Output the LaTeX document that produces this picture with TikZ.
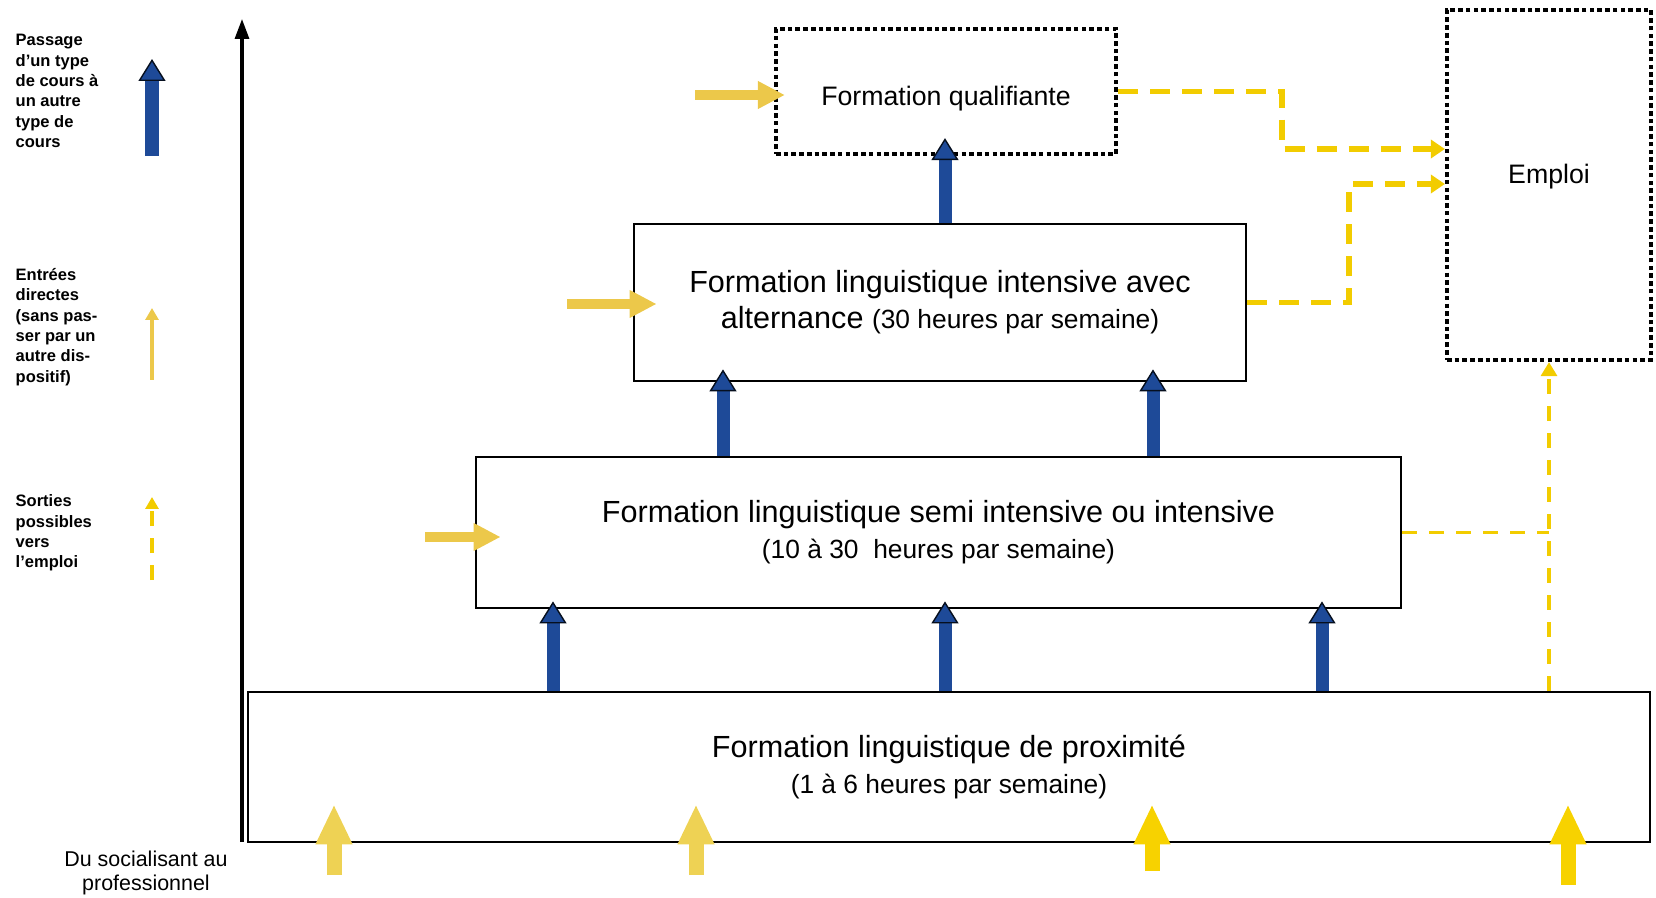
\documentclass[tikz,border=0pt]{standalone}
\usepackage{fontspec}
\setmainfont{Liberation Sans}
\usepackage{xcolor}
\usepackage{tikz}
\usetikzlibrary{arrows.meta}

\definecolor{bleupass}{RGB}{30,74,152}
\definecolor{jaunesortie}{RGB}{242,204,0}
\definecolor{jauneentree}{RGB}{236,200,74}
\definecolor{jaunepale}{RGB}{238,210,84}
\definecolor{jaunevif}{RGB}{247,210,0}

\newcommand{\heures}[1]{{\fontsize{7.5}{9}\selectfont #1}}

\tikzset{
  niveau/.style={draw=black, line width=0.8pt, inner sep=0pt, align=center, font=\fontsize{8.7}{10.3}\selectfont},
  cadre/.style={draw=black, line width=1.2pt, dash pattern=on 1.3pt off 0.9pt, inner sep=0pt, font=\fontsize{7.6}{9}\selectfont},
  legende/.style={anchor=west, align=left, inner sep=0pt, font=\fontsize{4.7}{5.8}\selectfont\bfseries},
  passage/.style={bleupass, line width=3.7pt, -{Triangle[width=0.27cm, length=0.22cm, fill=bleupass, color=black!80!bleupass, line width=0.4pt]}},
  entree/.style={jauneentree, line width=0.1cm, -{Triangle[width=0.26cm, length=0.27cm]}},
  entreebas/.style={line width=0.15cm, -{Triangle[width=0.34cm, length=0.40cm]}},
  sortie/.style={jaunesortie, line width=1.6pt, dash pattern=on 0.2cm off 0.12cm, -{Triangle[width=0.18cm, length=0.14cm]}},
  sortiefine/.style={jaunesortie, line width=0.9pt, dash pattern=on 0.15cm off 0.12cm},
}

\begin{document}
\begin{tikzpicture}
\useasboundingbox (0,0) rectangle (16.56,8.97);

% Axe vertical
\coordinate (axe0) at (2.42,0.55);
\coordinate (axe1) at (2.42,8.78);
\draw[line width=0.9pt, -{Triangle[width=0.14cm, length=0.2cm]}] (axe0) -- (axe1);
\node[align=center, font=\fontsize{6.1}{6.8}\selectfont] (axelab) at (1.46,0.24) {Du socialisant au\\professionnel};

% Legende
\node[legende] (leg1) at (0.15,8.06) {Passage\\d'un type\\de cours à\\un autre\\type de\\cours};
\node[legende] (leg2) at (0.15,5.70) {Entrées\\directes\\(sans pas-\\ser par un\\autre dis-\\positif)};
\node[legende] (leg3) at (0.15,3.64) {Sorties\\possibles\\vers\\l'emploi};
\coordinate (lp0) at (1.52,7.41);
\coordinate (lp1) at (1.52,8.38);
\draw[passage] (lp0) -- (lp1);
\coordinate (le0) at (1.52,5.17);
\coordinate (le1) at (1.52,5.89);
\draw[jauneentree, line width=1.1pt, -{Triangle[width=0.13cm, length=0.12cm]}] (le0) -- (le1);
\coordinate (ls0) at (1.52,3.17);
\coordinate (ls1) at (1.52,4.00);
\draw[sortiefine, -{Triangle[width=0.13cm, length=0.12cm]}] (ls0) -- (ls1);

% Niveaux de formation
\node[niveau, minimum width=14.02cm, minimum height=1.50cm] (prox) at (9.49,1.30) {Formation linguistique de proximité\\\heures{(1 à 6 heures par semaine)}};
\node[niveau, minimum width=9.25cm, minimum height=1.51cm] (semi) at (9.385,3.645) {Formation linguistique semi intensive ou intensive\\\heures{(10 à 30~ heures par semaine)}};
\node[niveau, minimum width=6.12cm, minimum height=1.57cm] (alt) at (9.40,5.945) {Formation linguistique intensive avec\\alternance \heures{(30 heures par semaine)}};
\node[cadre, minimum width=3.40cm, minimum height=1.25cm] (qual) at (9.46,8.055) {\raisebox{-0.14cm}[0pt][0pt]{Formation qualifiante}};
\node[cadre, minimum width=2.04cm, minimum height=3.50cm] (emploi) at (15.49,7.12) {\raisebox{0.01cm}[0pt][0pt]{Emploi}};

% Passages entre niveaux
\foreach \x in {5.53, 9.45, 13.22} {
  \coordinate (p) at (\x,0);
  \draw[passage] (p |- prox.north) -- ([yshift=0.08cm]p |- semi.south);
}
\foreach \x in {7.23, 11.53} {
  \coordinate (p) at (\x,0);
  \draw[passage] (p |- semi.north) -- ([yshift=0.13cm]p |- alt.south);
}
\coordinate (p) at (9.45,0);
\draw[passage] (p |- alt.north) -- ([yshift=0.18cm]p |- qual.south);

% Entrees directes
\coordinate (e1) at (6.95,8.02);
\draw[entree] (e1) -- ([xshift=0.11cm]e1 -| qual.west);
\coordinate (e2) at (5.67,5.93);
\draw[entree] (e2) -- ([xshift=0.24cm]e2 -| alt.west);
\coordinate (e3) at (4.25,3.60);
\draw[entree] (e3) -- ([xshift=0.26cm]e3 -| semi.west);
\foreach \x/\y/\c [count=\i] in {3.34/0.22/jaunepale, 6.96/0.22/jaunepale, 11.52/0.26/jaunevif, 15.68/0.12/jaunevif} {
  \coordinate (b\i) at (\x,\y);
  \draw[entreebas, color=\c] (b\i) -- ([yshift=0.39cm]b\i |- prox.south);
}

% Sorties vers l'emploi
\coordinate (c1) at (12.82,7.48);
\draw[sortie] (qual.east) -| (c1) -- (c1 -| emploi.west);
\coordinate (c2) at (13.49,7.13);
\draw[sortie] (alt.east) -| (c2) -- (c2 -| emploi.west);
\coordinate (c3) at (15.49,0);
\draw[sortiefine] (semi.east) -- (semi.east -| c3);
\draw[sortiefine, -{Triangle[width=0.16cm, length=0.14cm]}] (c3 |- prox.north) -- (emploi.south);

\end{tikzpicture}
\end{document}
